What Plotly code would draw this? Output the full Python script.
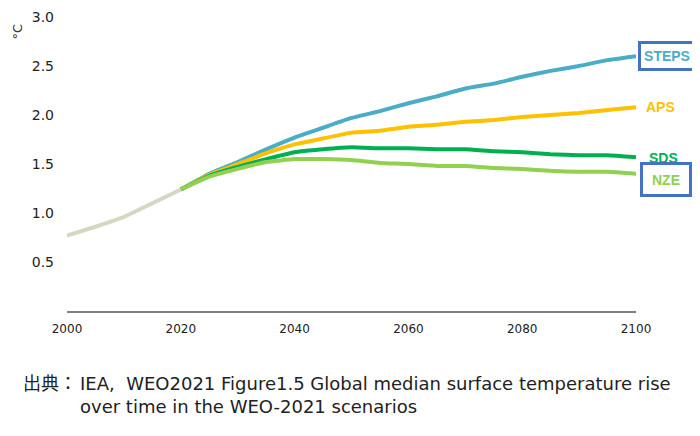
import plotly.graph_objects as go

hist_years = [2000, 2005, 2010, 2015, 2020]
hist_vals = [0.77, 0.86, 0.96, 1.10, 1.24]

proj_years = [2020, 2025, 2030, 2035, 2040, 2045, 2050, 2055, 2060, 2065, 2070, 2075, 2080, 2085, 2090, 2095, 2100]
steps = [1.24, 1.40, 1.52, 1.65, 1.77, 1.87, 1.97, 2.04, 2.12, 2.19, 2.27, 2.32, 2.39, 2.45, 2.50, 2.56, 2.60]
aps = [1.24, 1.39, 1.50, 1.61, 1.70, 1.76, 1.82, 1.84, 1.88, 1.90, 1.93, 1.95, 1.98, 2.00, 2.02, 2.05, 2.08]
sds = [1.24, 1.38, 1.47, 1.55, 1.62, 1.65, 1.67, 1.66, 1.66, 1.65, 1.65, 1.63, 1.62, 1.60, 1.59, 1.59, 1.57]
nze = [1.24, 1.37, 1.45, 1.52, 1.55, 1.55, 1.54, 1.51, 1.50, 1.48, 1.48, 1.46, 1.45, 1.43, 1.42, 1.42, 1.40]

series = [
    ("STEPS", steps, "#4bacc6"),
    ("APS", aps, "#ffc000"),
    ("SDS", sds, "#00b050"),
    ("NZE", nze, "#92d050"),
]

x_ticks = [2000, 2020, 2040, 2060, 2080, 2100]
y_ticks = [0.5, 1.0, 1.5, 2.0, 2.5, 3.0]

fig = go.Figure()
for name, vals, col in series:
    fig.add_trace(go.Scatter(x=proj_years, y=vals, mode="lines", name=name,
                             line=dict(color=col, width=4, shape="spline", smoothing=0.3)))
fig.add_trace(go.Scatter(x=hist_years, y=hist_vals, mode="lines", name="history",
                         line=dict(color="#d6d6c2", width=4, shape="spline", smoothing=0.3)))

label_pos = {"STEPS": (2.60, 2, 20), "APS": (2.08, 8, None), "SDS": (1.56, 11, None), "NZE": (1.34, 4, 25)}
boxed = {"STEPS", "NZE"}
for name, vals, col in series:
    yv, xs, h = label_pos[name]
    kw = {}
    if name in boxed:
        kw = dict(bordercolor="#4472c4", borderwidth=3, borderpad=2, height=h,
                  width=48 if name == "STEPS" else 42, valign="middle")
    fig.add_annotation(x=1, xref="paper", y=yv, yref="y",
                       xanchor="left", xshift=xs,
                       text="<b>%s</b>" % name, showarrow=False,
                       font=dict(family="Liberation Sans", size=14, color=col), **kw)

fig.add_annotation(x=-0.103, xref="paper", y=2.85, yref="y", text="°C", textangle=-90,
                   showarrow=False, font=dict(family="DejaVu Sans", size=13, color="#333333"))

cap_font = dict(family="DejaVu Sans, Noto Sans CJK JP", size=18, color="#222222")
fig.add_annotation(x=-0.081, xref="paper", y=-0.205, yref="paper", xanchor="left", yanchor="top",
                   showarrow=False, text="出典：", font=cap_font)
fig.add_annotation(x=0.019, xref="paper", y=-0.205, yref="paper", xanchor="left", yanchor="top",
                   align="left", showarrow=False,
                   text="IEA,  WEO2021 Figure1.5 Global median surface temperature rise<br>"
                        "over time in the WEO-2021 scenarios",
                   font=cap_font)

fig.update_layout(
    width=700, height=436,
    margin=dict(l=59, r=72, t=9, b=133),
    paper_bgcolor="white", plot_bgcolor="white",
    showlegend=False,
    xaxis=dict(range=[2000, 2100], tickvals=x_ticks, showgrid=False, zeroline=False,
               showline=True, linecolor="#808080", linewidth=2, ticks="",
               ticklabelstandoff=6, automargin=False,
               tickfont=dict(family="DejaVu Sans", size=12, color="#222222")),
    yaxis=dict(range=[0, 3.0], tickvals=y_ticks, ticktext=["%.1f" % v for v in y_ticks],
               showgrid=False, zeroline=False, showline=False, ticks="",
               ticklabelstandoff=12, automargin=False,
               tickfont=dict(family="DejaVu Sans", size=14, color="#222222")),
)

fig.write_html("out.html")
